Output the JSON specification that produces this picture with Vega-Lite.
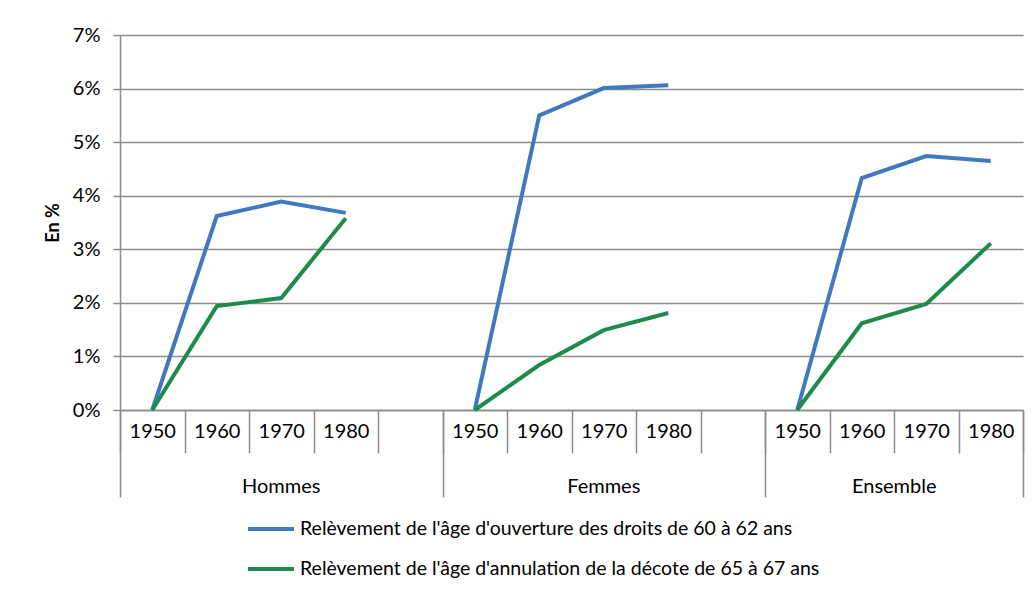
{
  "$schema": "https://vega.github.io/schema/vega-lite/v6.json",
  "width": 903,
  "height": 375,
  "autosize": "none",
  "padding": {"left": 120, "top": 35, "right": 10, "bottom": 179},
  "background": "white",
  "config": {
    "font": "Lato",
    "view": {"stroke": null},
    "axis": {"labelColor": "black", "labelFontSize": 20, "labelFont": "Lato", "titleColor": "black"}
  },
  "data": {
    "values": [
      {"group": "Hommes", "year": "1950", "slot": "Hommes|1950", "serie": "Relèvement de l'âge d'ouverture des droits de 60 à 62 ans", "value": 0},
      {"group": "Hommes", "year": "1960", "slot": "Hommes|1960", "serie": "Relèvement de l'âge d'ouverture des droits de 60 à 62 ans", "value": 0.0362},
      {"group": "Hommes", "year": "1970", "slot": "Hommes|1970", "serie": "Relèvement de l'âge d'ouverture des droits de 60 à 62 ans", "value": 0.0389},
      {"group": "Hommes", "year": "1980", "slot": "Hommes|1980", "serie": "Relèvement de l'âge d'ouverture des droits de 60 à 62 ans", "value": 0.0368},
      {"group": "Femmes", "year": "1950", "slot": "Femmes|1950", "serie": "Relèvement de l'âge d'ouverture des droits de 60 à 62 ans", "value": 0},
      {"group": "Femmes", "year": "1960", "slot": "Femmes|1960", "serie": "Relèvement de l'âge d'ouverture des droits de 60 à 62 ans", "value": 0.055},
      {"group": "Femmes", "year": "1970", "slot": "Femmes|1970", "serie": "Relèvement de l'âge d'ouverture des droits de 60 à 62 ans", "value": 0.0601},
      {"group": "Femmes", "year": "1980", "slot": "Femmes|1980", "serie": "Relèvement de l'âge d'ouverture des droits de 60 à 62 ans", "value": 0.0606},
      {"group": "Ensemble", "year": "1950", "slot": "Ensemble|1950", "serie": "Relèvement de l'âge d'ouverture des droits de 60 à 62 ans", "value": 0},
      {"group": "Ensemble", "year": "1960", "slot": "Ensemble|1960", "serie": "Relèvement de l'âge d'ouverture des droits de 60 à 62 ans", "value": 0.0433},
      {"group": "Ensemble", "year": "1970", "slot": "Ensemble|1970", "serie": "Relèvement de l'âge d'ouverture des droits de 60 à 62 ans", "value": 0.0474},
      {"group": "Ensemble", "year": "1980", "slot": "Ensemble|1980", "serie": "Relèvement de l'âge d'ouverture des droits de 60 à 62 ans", "value": 0.0465},
      {"group": "Hommes", "year": "1950", "slot": "Hommes|1950", "serie": "Relèvement de l'âge d'annulation de la décote de 65 à 67 ans", "value": 0},
      {"group": "Hommes", "year": "1960", "slot": "Hommes|1960", "serie": "Relèvement de l'âge d'annulation de la décote de 65 à 67 ans", "value": 0.0194},
      {"group": "Hommes", "year": "1970", "slot": "Hommes|1970", "serie": "Relèvement de l'âge d'annulation de la décote de 65 à 67 ans", "value": 0.0209},
      {"group": "Hommes", "year": "1980", "slot": "Hommes|1980", "serie": "Relèvement de l'âge d'annulation de la décote de 65 à 67 ans", "value": 0.0358},
      {"group": "Femmes", "year": "1950", "slot": "Femmes|1950", "serie": "Relèvement de l'âge d'annulation de la décote de 65 à 67 ans", "value": 0},
      {"group": "Femmes", "year": "1960", "slot": "Femmes|1960", "serie": "Relèvement de l'âge d'annulation de la décote de 65 à 67 ans", "value": 0.0084},
      {"group": "Femmes", "year": "1970", "slot": "Femmes|1970", "serie": "Relèvement de l'âge d'annulation de la décote de 65 à 67 ans", "value": 0.0149},
      {"group": "Femmes", "year": "1980", "slot": "Femmes|1980", "serie": "Relèvement de l'âge d'annulation de la décote de 65 à 67 ans", "value": 0.0181},
      {"group": "Ensemble", "year": "1950", "slot": "Ensemble|1950", "serie": "Relèvement de l'âge d'annulation de la décote de 65 à 67 ans", "value": 0},
      {"group": "Ensemble", "year": "1960", "slot": "Ensemble|1960", "serie": "Relèvement de l'âge d'annulation de la décote de 65 à 67 ans", "value": 0.0162},
      {"group": "Ensemble", "year": "1970", "slot": "Ensemble|1970", "serie": "Relèvement de l'âge d'annulation de la décote de 65 à 67 ans", "value": 0.0198},
      {"group": "Ensemble", "year": "1980", "slot": "Ensemble|1980", "serie": "Relèvement de l'âge d'annulation de la décote de 65 à 67 ans", "value": 0.0311}
    ]
  },
  "layer": [
    {
      "mark": {"type": "line", "strokeWidth": 4},
      "encoding": {
        "x": {
          "field": "slot", "type": "nominal",
          "scale": {"type": "band", "paddingInner": 0, "paddingOuter": 0,
            "domain": ["Hommes|1950", "Hommes|1960", "Hommes|1970", "Hommes|1980", "Hommes|", "Femmes|1950", "Femmes|1960", "Femmes|1970", "Femmes|1980", "Femmes|", "Ensemble|1950", "Ensemble|1960", "Ensemble|1970", "Ensemble|1980"]},
          "axis": {
            "orient": "bottom", "title": null, "grid": false,
            "labelExpr": "split(datum.value, '|')[1]",
            "labelAngle": 0, "labelPadding": -32,
            "tickBand": "extent", "tickSize": 43, "tickColor": "#8c8c8c", "tickWidth": 1.5,
            "domainColor": "#8c8c8c", "domainWidth": 1.5
          }
        },
        "y": {
          "field": "value", "type": "quantitative",
          "scale": {"domain": [0, 0.07], "nice": false},
          "axis": {
            "title": "En %", "titleFontWeight": "bold", "titleFontSize": 18, "titlePadding": 10,
            "format": ".0%", "values": [0, 0.01, 0.02, 0.03, 0.04, 0.05, 0.06, 0.07],
            "tickSize": 7, "labelPadding": 13, "tickColor": "#8c8c8c", "tickWidth": 1.5,
            "grid": true, "gridColor": "#8c8c8c", "gridWidth": 1.5,
            "domainColor": "#8c8c8c", "domainWidth": 1.5
          }
        },
        "color": {
          "field": "serie", "type": "nominal",
          "scale": {
            "domain": ["Relèvement de l'âge d'ouverture des droits de 60 à 62 ans", "Relèvement de l'âge d'annulation de la décote de 65 à 67 ans"],
            "range": ["#4179bf", "#1e8b4b"]
          },
          "legend": {
            "orient": "none", "legendX": 126, "legendY": 469, "direction": "vertical",
            "title": null, "symbolType": "stroke", "symbolSize": 2116, "symbolStrokeWidth": 4,
            "labelFontSize": 19.5, "labelColor": "black", "labelFont": "Lato", "labelLimit": 900,
            "rowPadding": 5, "labelOffset": 4
          }
        },
        "detail": {"field": "group"}
      }
    },
    {
      "mark": {"type": "line", "opacity": 0},
      "encoding": {
        "x": {
          "field": "slot", "type": "nominal",
          "axis": {
            "orient": "bottom", "title": null, "labels": false, "domain": false, "grid": false,
            "tickBand": "extent", "tickSize": 87, "tickColor": "#8c8c8c", "tickWidth": 1.5,
            "tickOpacity": {"condition": {"test": "datum.index < 0 || datum.value === 'Hommes|' || datum.value === 'Femmes|' || datum.value === 'Ensemble|1980'", "value": 1}, "value": 0}
          }
        },
        "y": {"field": "value", "type": "quantitative", "axis": null},
        "detail": {"field": "group"}
      }
    },
    {
      "mark": {"type": "line", "opacity": 0},
      "encoding": {
        "x": {
          "field": "slot", "type": "nominal",
          "axis": {
            "orient": "bottom", "title": null, "ticks": false, "domain": false, "grid": false,
            "values": ["Hommes|1970", "Femmes|1970", "Ensemble|1970"],
            "labelExpr": "split(datum.value, '|')[0]",
            "labelAngle": 0, "labelPadding": 66,
            "labelOffset": {"condition": {"test": "datum.value === 'Ensemble|1970'", "value": -32}, "value": 0}
          }
        },
        "y": {"field": "value", "type": "quantitative", "axis": null},
        "detail": {"field": "group"}
      }
    }
  ],
  "resolve": {"axis": {"x": "independent", "y": "independent"}}
}
